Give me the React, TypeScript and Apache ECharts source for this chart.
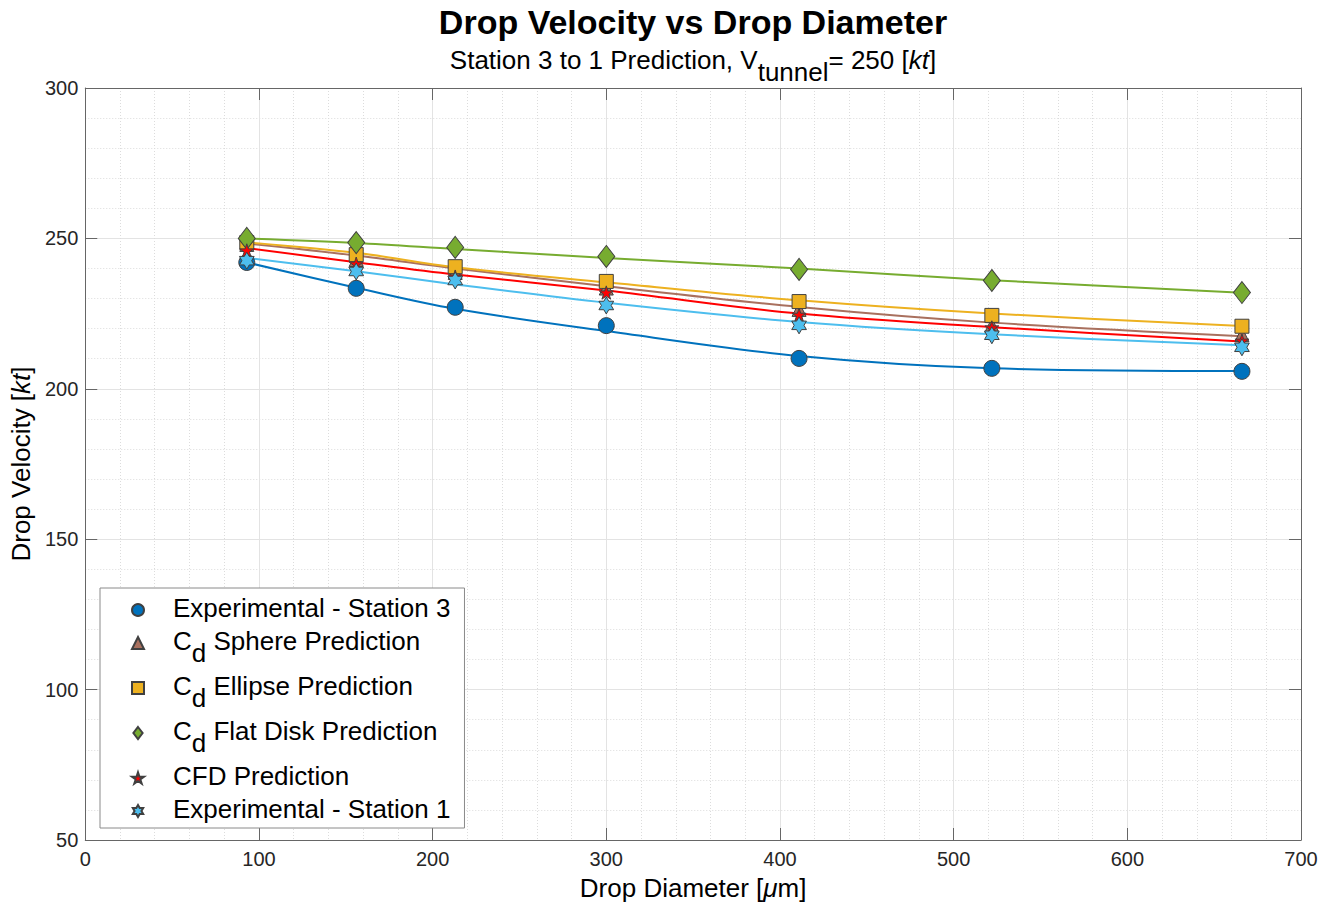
import React, { useEffect, useRef } from "react";
import * as echarts from "echarts";

// ---- data ----
const diameters = [93, 156, 213, 300, 411, 522, 666];

const station3 = [242.0, 233.4, 227.1, 221.0, 210.1, 206.8, 205.8];
const sphere = [248.0, 243.0, 238.7, 233.5, 226.4, 221.1, 218.0];
const ellipse = [248.6, 244.6, 240.6, 235.7, 229.0, 224.4, 220.8];
const flatDisk = [250.0, 248.6, 247.0, 244.0, 239.7, 236.0, 232.0];
const cfd = [246.0, 241.6, 237.3, 232.0, 224.6, 220.4, 216.0];
const station1 = [242.6, 239.0, 236.0, 227.7, 221.1, 217.8, 213.8];

// fitted curves drawn through the points
const station3Fit = [242.0, 233.6, 226.6, 219.2, 210.9, 206.8, 205.9];
const sphereFit = [248.3, 244.3, 240.0, 234.1, 227.2, 222.0, 217.5];
const ellipseFit = [248.7, 245.2, 240.4, 235.4, 229.4, 225.0, 220.9];
const flatDiskFit = [250.0, 248.5, 246.5, 243.5, 240.0, 236.1, 231.9];
const cfdFit = [246.8, 242.1, 238.0, 232.7, 225.0, 220.5, 215.7];
const station1Fit = [243.5, 239.1, 234.7, 228.6, 222.2, 218.1, 214.5];

const xTicks = [0, 100, 200, 300, 400, 500, 600, 700];
const yTicks = [50, 100, 150, 200, 250, 300];

const names = [
  "Experimental - Station 3",
  "Cd Sphere Prediction",
  "Cd Ellipse Prediction",
  "Cd Flat Disk Prediction",
  "CFD Prediction",
  "Experimental - Station 1",
];

const FONT = "'Liberation Sans', Helvetica, Arial, sans-serif";

const PENTAGRAM =
  "path://M0 -1000L224 -309L951 -309L363 118L588 809L0 382L-588 809L-363 118L-951 -309L-224 -309Z";
const HEXAGRAM =
  "path://M0 -1000L289 -500L866 -500L577 0L866 500L289 500L0 1000L-289 500L-866 500L-577 0L-866 -500L-289 -500Z";
const DIAMOND_ICON = "path://M0 -13L10 0L0 13L-10 0Z";

const pair = (ys: number[]) => diameters.map((x, i) => [x, ys[i]]);

const makeRich = (fs: number, lh: number, subPad: number) => ({
  a: { fontSize: fs, fontFamily: FONT, fontWeight: "normal", color: "#000", lineHeight: lh, verticalAlign: "top" },
  sub: {
    fontSize: fs,
    fontFamily: FONT,
    fontWeight: "normal",
    color: "#000",
    lineHeight: lh,
    padding: [subPad, 0, 0, 0],
    verticalAlign: "top",
  },
  i: { fontSize: fs, fontFamily: FONT, fontWeight: "normal", fontStyle: "italic", color: "#000", lineHeight: lh, verticalAlign: "top" },
});

export default function App() {
  const ref = useRef<HTMLDivElement>(null);

  useEffect(() => {
    if (!ref.current) return;
    const chart = echarts.init(ref.current, null, { renderer: "svg" });

    const edge = "#404040";
    const specs = [
      { name: names[0], pts: station3, fit: station3Fit, color: "#0072BD", symbol: "circle", size: 16 },
      { name: names[1], pts: sphere, fit: sphereFit, color: "#A9705E", symbol: "triangle", size: 14 },
      { name: names[2], pts: ellipse, fit: ellipseFit, color: "#EDB120", symbol: "rect", size: 14 },
      { name: names[3], pts: flatDisk, fit: flatDiskFit, color: "#77AC30", symbol: "diamond", size: [17, 22] },
      { name: names[4], pts: cfd, fit: cfdFit, color: "#FF0000", symbol: PENTAGRAM, size: 14 },
      { name: names[5], pts: station1, fit: station1Fit, color: "#4DBEEE", symbol: HEXAGRAM, size: 17 },
    ];

    const lineSeries = specs.map((s, i) => ({
      name: "fit" + i,
      type: "line",
      data: pair(s.fit),
      smooth: 0.35,
      showSymbol: false,
      symbol: "none",
      lineStyle: { color: s.color, width: 2 },
      z: 2,
      silent: true,
    }));

    const scatterSeries = specs.map((s) => ({
      name: s.name,
      type: "scatter",
      data: pair(s.pts),
      symbol: s.symbol,
      symbolSize: s.size,
      symbolKeepAspect: true,
      itemStyle: { color: s.color, borderColor: edge, borderWidth: 1, opacity: 1 },
      z: 3,
    }));

    const axisColor = "#666666";
    const labelColor = "#262626";

    const legendRich = makeRich(26, 30, 12);
    const subRich = makeRich(26, 30, 12);
    const nameRich = makeRich(26, 30, 0);

    const legendFormatter = (name: string) => {
      if (name.startsWith("Cd ")) {
        return "{a|C}{sub|d}{a| " + name.slice(3) + "}";
      }
      return "{a|" + name + "}";
    };

    const option: any = {
      animation: false,
      backgroundColor: "#ffffff",
      textStyle: { fontFamily: FONT },
      title: [
        {
          text: "Drop Velocity vs Drop Diameter",
          left: 688,
          top: 0,
          textAlign: "center",
          textStyle: { fontSize: 34, fontWeight: "bold", color: "#000", fontFamily: FONT },
        },
        {
          text: "{a|Station 3 to 1 Prediction, V}{sub|tunnel}{a|= 250 [}{i|kt}{a|]}",
          left: 688,
          top: 42,
          textAlign: "center",
          textStyle: { fontWeight: "normal", rich: subRich },
        },
      ],
      grid: { left: 85, right: 21, top: 88, bottom: 64, containLabel: false, show: false },
      legend: {
        orient: "vertical",
        left: 100,
        top: 588,
        padding: [7, 14, 6, 31],
        itemWidth: 12,
        itemHeight: 12,
        itemGap: 7,
        borderColor: "#8a8a8a",
        borderWidth: 1,
        backgroundColor: "#ffffff",
        symbolKeepAspect: true,
        data: [
          { name: names[0] },
          { name: names[1] },
          { name: names[2] },
          { name: names[3], icon: DIAMOND_ICON },
          { name: names[4] },
          { name: names[5] },
        ],
        formatter: legendFormatter,
        textStyle: { padding: [0, 0, 0, 24], rich: legendRich },
        selectedMode: false,
      },
      xAxis: [
        {
          type: "value",
          min: xTicks[0],
          max: xTicks[xTicks.length - 1],
          interval: 100,
          position: "bottom",
          name: "{a|Drop Diameter [}{i|μ}{a|m]}",
          nameLocation: "middle",
          nameGap: 35,
          nameTextStyle: { rich: nameRich },
          axisLine: { show: true, onZero: false, lineStyle: { color: axisColor, width: 1 } },
          axisTick: { show: true, inside: true, length: 12, lineStyle: { color: axisColor } },
          axisLabel: { fontSize: 20, color: labelColor, margin: 9, fontFamily: FONT },
          splitLine: { show: true, lineStyle: { color: "#e3e3e3", width: 1 } },
          minorTick: { show: false, splitNumber: 5 },
          minorSplitLine: { show: true, lineStyle: { color: "#dcdcdc", width: 1, type: [1, 2] } },
        },
        {
          type: "value",
          min: xTicks[0],
          max: xTicks[xTicks.length - 1],
          interval: 100,
          position: "top",
          axisLine: { show: true, onZero: false, lineStyle: { color: axisColor, width: 1 } },
          axisTick: { show: true, inside: true, length: 12, lineStyle: { color: axisColor } },
          axisLabel: { show: false },
          splitLine: { show: false },
        },
      ],
      yAxis: [
        {
          type: "value",
          min: yTicks[0],
          max: yTicks[yTicks.length - 1],
          interval: 50,
          position: "left",
          name: "{a|Drop Velocity [}{i|kt}{a|]}",
          nameLocation: "middle",
          nameGap: 36,
          nameRotate: 90,
          nameTextStyle: { rich: nameRich },
          axisLine: { show: true, onZero: false, lineStyle: { color: axisColor, width: 1 } },
          axisTick: { show: true, inside: true, length: 12, lineStyle: { color: axisColor } },
          axisLabel: { fontSize: 20, color: labelColor, margin: 7, fontFamily: FONT },
          splitLine: { show: true, lineStyle: { color: "#e3e3e3", width: 1 } },
          minorTick: { show: false, splitNumber: 5 },
          minorSplitLine: { show: true, lineStyle: { color: "#dcdcdc", width: 1, type: [1, 2] } },
        },
        {
          type: "value",
          min: yTicks[0],
          max: yTicks[yTicks.length - 1],
          interval: 50,
          position: "right",
          axisLine: { show: true, onZero: false, lineStyle: { color: axisColor, width: 1 } },
          axisTick: { show: true, inside: true, length: 12, lineStyle: { color: axisColor } },
          axisLabel: { show: false },
          splitLine: { show: false },
        },
      ],
      series: [...lineSeries, ...scatterSeries],
    };

    chart.setOption(option);
    return () => chart.dispose();
  }, []);

  return (
    <div
      ref={ref}
      style={{ position: "absolute", left: 0, top: 0, width: 1322, height: 906, background: "#fff" }}
    />
  );
}
